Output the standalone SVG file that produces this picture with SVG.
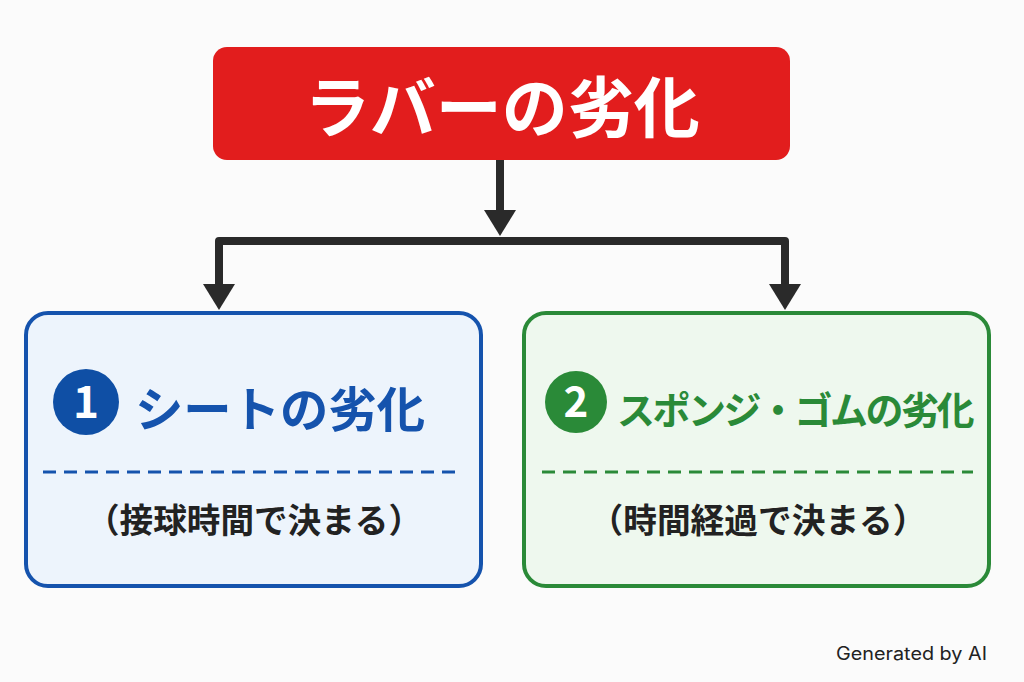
<svg xmlns="http://www.w3.org/2000/svg" width="1024" height="682" viewBox="0 0 1024 682">
<defs>
<style>
.jp{font-family:"Noto Sans CJK JP","Noto Sans",sans-serif;font-weight:bold}
.conn{stroke:#2a2a2a;stroke-width:8;fill:none}
.head{fill:#2a2a2a}
.sub{fill:#222;font-size:34px}
</style>
</defs>
<rect width="1024" height="682" fill="#fbfbfb"/>
<g id="connectors">
<line class="conn" x1="500" y1="160" x2="500" y2="214"/>
<polygon class="head" points="484,210 516,210 500,236"/>
<polyline class="conn" points="219,290 219,241 785,241 785,290" stroke-linejoin="round"/>
<polygon class="head" points="203,284 235,284 219,310"/>
<polygon class="head" points="769,284 801,284 785,310"/>
</g>
<g id="root">
<rect x="213" y="47" width="577" height="113" rx="14" fill="#e21d1d"/>
<text class="jp" x="502" y="132" font-size="66" fill="#fff" text-anchor="middle">ラバーの劣化</text>
</g>
<g id="node1">
<rect x="26" y="313" width="455" height="273" rx="22" fill="#edf4fc" stroke="#1553ad" stroke-width="4"/>
<circle cx="86" cy="402" r="33" fill="#0f4fa5"/>
<text class="jp" x="86" y="418" font-size="44" fill="#fff" text-anchor="middle">1</text>
<text class="jp" x="135" y="427" font-size="48" fill="#1553ad" textLength="290" lengthAdjust="spacingAndGlyphs">シートの劣化</text>
<line x1="43" y1="472" x2="463" y2="472" stroke="#1553ad" stroke-width="3" stroke-dasharray="13,8"/>
<text class="jp sub" x="254" y="533" text-anchor="middle" textLength="336" lengthAdjust="spacingAndGlyphs">（接球時間で決まる）</text>
</g>
<g id="node2">
<rect x="524" y="313" width="465" height="273" rx="22" fill="#eef8ee" stroke="#2a8a38" stroke-width="4"/>
<circle cx="576" cy="402" r="31" fill="#2a8a38"/>
<text class="jp" x="576" y="417" font-size="42" fill="#fff" text-anchor="middle">2</text>
<text class="jp" x="617" y="424" font-size="38" fill="#2a8a38" letter-spacing="-2.5">スポンジ・ゴムの劣化</text>
<line x1="542" y1="472" x2="973" y2="472" stroke="#2a8a38" stroke-width="3" stroke-dasharray="13,8"/>
<text class="jp sub" x="758" y="533" text-anchor="middle" textLength="337" lengthAdjust="spacingAndGlyphs">（時間経過で決まる）</text>
</g>
<text x="836" y="660" font-family="Inter,'Liberation Sans',sans-serif" font-size="18" fill="#222" textLength="151" lengthAdjust="spacingAndGlyphs">Generated by AI</text>
</svg>
